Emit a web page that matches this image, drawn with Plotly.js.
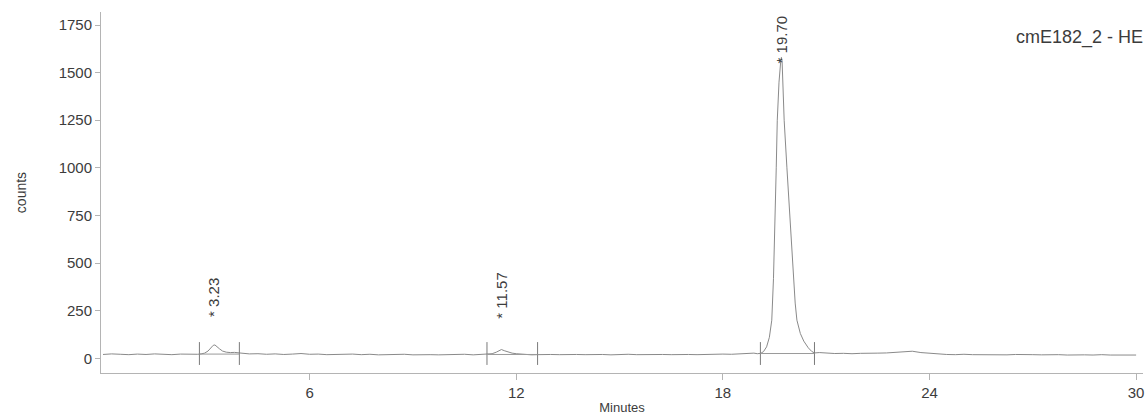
<!DOCTYPE html>
<html>
<head>
<meta charset="utf-8">
<script src="https://cdn.plot.ly/plotly-3.0.1.min.js"></script>
<style>html,body{margin:0;padding:0;background:#fff;}#chart{width:1146px;height:417px;}</style>
</head>
<body>
<div id="chart"></div>
<script>
// Retention time (minutes) and detector counts
var times = [
  0, 0.25, 0.5, 0.75, 1.0, 1.25, 1.5, 1.75, 2.0, 2.25, 2.5, 2.75,
  2.85, 2.95, 3.05, 3.13, 3.2, 3.25, 3.3, 3.38, 3.47, 3.58, 3.7, 3.82, 3.96,
  4.1, 4.25, 4.5, 4.75, 5.0, 5.25, 5.5, 5.75, 6.0, 6.25, 6.5, 6.75, 7.0, 7.25, 7.5, 7.75,
  8.0, 8.25, 8.5, 8.75, 9.0, 9.25, 9.5, 9.75, 10.0, 10.25, 10.5, 10.75, 11.0,
  11.15, 11.3, 11.42, 11.5, 11.57, 11.65, 11.75, 11.88, 12.0, 12.15, 12.3, 12.45, 12.6,
  12.75, 13.0, 13.25, 13.5, 13.75, 14.0, 14.25, 14.5, 14.75, 15.0, 15.25, 15.5, 15.75,
  16.0, 16.25, 16.5, 16.75, 17.0, 17.25, 17.5, 17.75, 18.0, 18.25, 18.5, 18.75, 18.9, 19.0,
  19.1, 19.18, 19.27, 19.35, 19.42, 19.47, 19.52, 19.55, 19.58, 19.63, 19.68, 19.70,
  19.72, 19.75, 19.78, 19.86, 19.95, 20.03, 20.1, 20.15, 20.25, 20.35, 20.48, 20.58, 20.66,
  20.8, 21.0, 21.25, 21.5, 21.75, 22.0, 22.25, 22.5, 22.75, 23.0, 23.25, 23.5, 23.75,
  24.0, 24.25, 24.5, 24.75, 25.0, 25.25, 25.5, 25.75, 26.0, 26.25, 26.5, 26.75,
  27.0, 27.25, 27.5, 27.75, 28.0, 28.25, 28.5, 28.75, 29.0, 29.25, 29.5, 29.75, 30.0
];
var counts = [
  20, 23, 21, 19, 22, 20, 23, 21, 19, 22, 20, 21,
  23, 27, 38, 55, 68, 70, 64, 50, 38, 32, 30, 31, 28,
  25, 23, 24, 21, 23, 20, 22, 25, 21, 22, 19, 21, 20, 22, 19, 21,
  18, 20, 19, 21, 18, 20, 19, 18, 20, 19, 21, 18, 20,
  21, 24, 32, 40, 46, 40, 33, 27, 24, 21, 19, 18, 19,
  18, 20, 19, 21, 20, 19, 21, 20, 18, 20, 21, 19, 20,
  18, 20, 19, 21, 20, 19, 21, 20, 22, 21, 24, 29, 27, 24,
  26, 35, 60, 110, 200, 420, 725, 1000, 1250, 1450, 1560, 1580,
  1560, 1420, 1250, 1000, 725, 450, 290, 200, 130, 90, 55, 36, 28,
  30, 27, 25, 26, 24, 26, 25, 27, 28, 30, 33, 37, 30,
  26, 22, 20, 19, 21, 19, 18, 20, 19, 18, 20, 18,
  19, 18, 20, 19, 17, 19, 18, 17, 19, 17, 18, 16, 17
];

// Integrated peaks
var peakTimes = [3.23, 11.57, 19.70];
var peakStart = [2.80, 11.15, 19.09];
var peakEnd = [3.96, 12.62, 20.66];
var peakBaseline = [22, 20, 25];
var peakLabels = ['* 3.23', '* 11.57', '* 19.70'];

var xTicks = [6, 12, 18, 24, 30];
var yTicks = [0, 250, 500, 750, 1000, 1250, 1500, 1750];

var lineGray = '#8a8a8a';
var axisGray = '#b4b4b4';
var textGray = '#3c3c3c';

var shapes = [];
var annotations = [];
var labelY = [205, 200, 1540];
for (var i = 0; i < peakTimes.length; i++) {
  // start / end markers
  [peakStart[i], peakEnd[i]].forEach(function (t) {
    shapes.push({type: 'line', xref: 'x', yref: 'y', x0: t, x1: t, y0: -35, y1: 85,
      line: {color: '#7a7a7a', width: 1}});
  });
  // baseline segment
  shapes.push({type: 'line', xref: 'x', yref: 'y', x0: peakStart[i], x1: peakEnd[i],
    y0: peakBaseline[i], y1: peakBaseline[i], line: {color: '#9a9a9a', width: 1}});
  annotations.push({
    x: peakTimes[i], y: labelY[i], xref: 'x', yref: 'y',
    text: peakLabels[i], textangle: -90, showarrow: false,
    xanchor: 'center', yanchor: 'bottom',
    font: {family: 'Liberation Sans, Arial, sans-serif', size: 15, color: textGray}
  });
}

var trace = {
  x: times, y: counts, type: 'scatter', mode: 'lines',
  line: {color: lineGray, width: 1}, hoverinfo: 'skip', showlegend: false
};

var layout = {
  width: 1146, height: 417,
  margin: {l: 101, r: 3, t: 12, b: 44, pad: 0},
  paper_bgcolor: '#ffffff', plot_bgcolor: '#ffffff',
  font: {family: 'Liberation Sans, Arial, sans-serif', size: 15, color: textGray},
  title: {
    text: 'cmE182_2 - HE', x: 1, xref: 'paper', xanchor: 'right',
    y: 1 - 37 / 417, yref: 'container', yanchor: 'middle',
    font: {family: 'Liberation Sans, Arial, sans-serif', size: 18, color: textGray}
  },
  xaxis: {
    range: [-0.058, 30.2], tickvals: xTicks, ticktext: xTicks.map(String),
    showgrid: false, zeroline: false, showline: true, linecolor: axisGray, linewidth: 1,
    ticks: 'outside', ticklen: 6, tickcolor: axisGray,
    tickfont: {size: 15, color: textGray},
    title: {text: 'Minutes', standoff: 2, font: {size: 13, color: textGray}}
  },
  yaxis: {
    range: [-77.3, 1818.3], tickvals: yTicks, ticktext: yTicks.map(String),
    showgrid: false, zeroline: false, showline: true, linecolor: axisGray, linewidth: 1,
    ticks: 'outside', ticklen: 5, tickcolor: axisGray,
    tickfont: {size: 15, color: textGray},
    title: {text: 'counts', standoff: 28, font: {size: 14, color: textGray}}
  },
  shapes: shapes,
  annotations: annotations
};

Plotly.newPlot('chart', [trace], layout, {staticPlot: true, displayModeBar: false});
</script>
</body>
</html>
